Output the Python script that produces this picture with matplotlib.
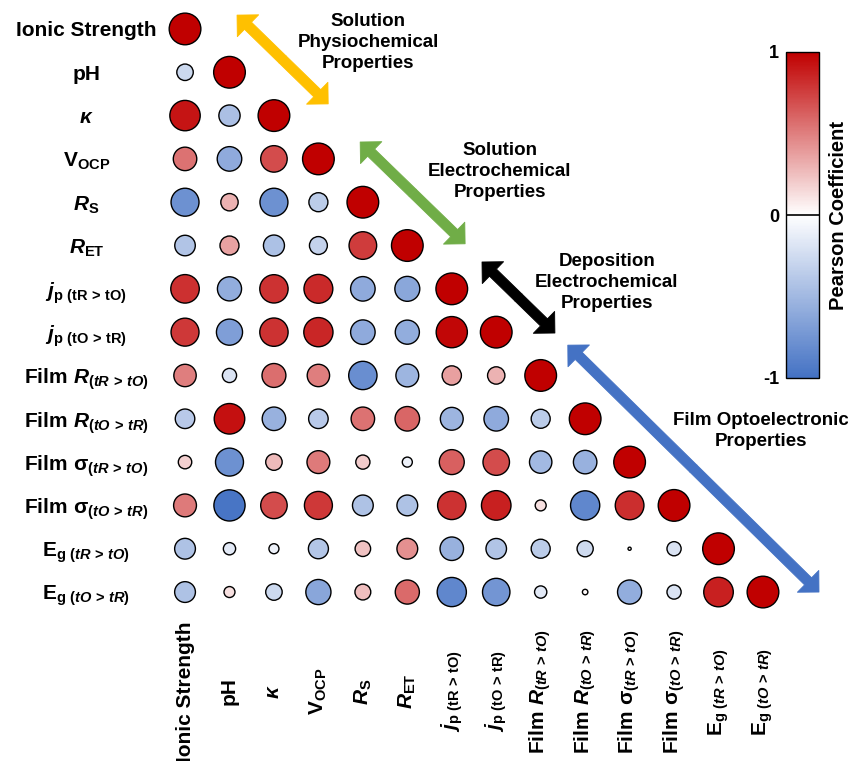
import numpy as np
import matplotlib
matplotlib.use("Agg")
import matplotlib.pyplot as plt
from matplotlib.colors import LinearSegmentedColormap

plt.rcParams['font.family'] = ['Liberation Sans', 'DejaVu Sans']
plt.rcParams['font.weight'] = 'bold'
plt.rcParams['mathtext.fontset'] = 'custom'
plt.rcParams['mathtext.rm'] = 'Liberation Sans:bold'
plt.rcParams['mathtext.it'] = 'Liberation Sans:italic:bold'
plt.rcParams['mathtext.bf'] = 'Liberation Sans:bold'

# variable names (same order for rows and columns)
labels = [
    'Ionic Strength',
    'pH',
    r'$\mathit{κ}$',
    r'$\mathrm{V}_{\mathrm{OCP}}$',
    r'$\mathit{R}_{\mathrm{S}}$',
    r'$\mathit{R}_{\mathrm{ET}}$',
    r'$\mathit{j}_{\mathrm{p\ (tR\,>\,tO)}}$',
    r'$\mathit{j}_{\mathrm{p\ (tO\,>\,tR)}}$',
    r'$\mathrm{Film}\ \mathit{R}_{\mathit{(tR\,>\,tO)}}$',
    r'$\mathrm{Film}\ \mathit{R}_{\mathit{(tO\,>\,tR)}}$',
    r'$\mathrm{Film\ σ}_{\mathit{(tR\,>\,tO)}}$',
    r'$\mathrm{Film\ σ}_{\mathit{(tO\,>\,tR)}}$',
    r'$\mathrm{E}_{\mathrm{g}\ \mathit{(tR\,>\,tO)}}$',
    r'$\mathrm{E}_{\mathrm{g}\ \mathit{(tO\,>\,tR)}}$',
]

# lower triangle of the Pearson matrix, row by row (diagonal included)
corr_rows = [
    [1.00],
    [-0.27, 1.00],
    [0.92, -0.45, 1.00],
    [0.55, -0.60, 0.70, 1.00],
    [-0.78, 0.30, -0.78, -0.36, 1.00],
    [-0.42, 0.36, -0.44, -0.32, 0.76, 1.00],
    [0.81, -0.58, 0.80, 0.83, -0.60, -0.62, 1.00],
    [0.78, -0.68, 0.80, 0.85, -0.60, -0.58, 0.97, 1.00],
    [0.50, -0.20, 0.57, 0.50, -0.80, -0.52, 0.37, 0.30, 1.00],
    [-0.38, 0.93, -0.55, -0.38, 0.55, 0.60, -0.52, -0.60, -0.36, 1.00],
    [0.18, -0.78, 0.27, 0.52, 0.20, -0.10, 0.62, 0.70, -0.50, -0.55, 1.00],
    [0.52, -0.97, 0.70, 0.78, -0.43, -0.43, 0.80, 0.87, 0.12, -0.85, 0.82, 1.00],
    [-0.43, -0.15, -0.10, -0.40, 0.24, 0.43, -0.55, -0.42, -0.36, -0.26, 0.01, -0.20, 1.00],
    [-0.43, 0.12, -0.27, -0.63, 0.25, 0.58, -0.85, -0.75, -0.15, 0.03, -0.58, -0.20, 0.87, 1.00],
]

# property groups: text, arrow ends (grid units), colour
groups = [
    ('Solution\nPhysiochemical\nProperties', (4.12, 0.32), (1.17, -0.32), (3.22, 1.73), '#FFC000'),
    ('Solution\nElectrochemical\nProperties', (7.08, 3.30), (3.94, 2.61), (6.30, 4.96), '#70AD47'),
    ('Deposition\nElectrochemical\nProperties', (9.49, 5.86), (6.68, 5.38), (8.32, 7.02), '#000000'),
    ('Film Optoelectronic\nProperties', (12.96, 9.28), (8.61, 7.30), (14.26, 13.00), '#4472C4'),
]

cmap = LinearSegmentedColormap.from_list('pearson', ['#4472C4', '#FFFFFF', '#C00000'])

xs, ys, vals = [], [], []
for i, row in enumerate(corr_rows):
    for j, v in enumerate(row):
        xs.append(j)
        ys.append(i)
        vals.append(v)
vals = np.array(vals)

fig = plt.figure(figsize=(8.48, 7.61), dpi=100)
ax = fig.add_axes([162.8 / 848, 1 - 613.7 / 761, 622.4 / 848, 606.4 / 761])

sc = ax.scatter(xs, ys, s=np.abs(vals) * 520, c=vals, cmap=cmap, vmin=-1, vmax=1,
                edgecolors='black', linewidths=1.0, zorder=3)

ax.set_xlim(-0.5, 13.5)
ax.set_ylim(13.5, -0.5)
for sp in ax.spines.values():
    sp.set_visible(False)

n = len(labels)
ax.set_yticks(range(n), labels, fontsize=15)
ax.set_xticks(range(n), labels, fontsize=15, rotation=90)
for lab in ax.get_yticklabels():
    lab.set_horizontalalignment('center')
for lab in ax.get_xticklabels():
    lab.set_verticalalignment('center')
ax.tick_params(axis='y', length=0, pad=55)
ax.tick_params(axis='x', length=0, pad=56)

# group arrows and captions
for text, txy, p0, p1, color in groups:
    mid = ((p0[0] + p1[0]) / 2, (p0[1] + p1[1]) / 2)
    for tip in (p0, p1):
        ax.annotate('', xy=tip, xytext=mid, annotation_clip=False,
                    arrowprops=dict(arrowstyle='simple,head_length=11,head_width=22,tail_width=7.2',
                                    mutation_scale=1, color=color, lw=0.6,
                                    shrinkA=0, shrinkB=0))
    ax.text(txy[0], txy[1], text, ha='center', va='center', fontsize=13.5,
            fontweight='bold', linespacing=1.3, clip_on=False)

# colour bar
cax = fig.add_axes([786 / 848, 1 - 378 / 761, 33 / 848, 326 / 761])
cb = fig.colorbar(sc, cax=cax)
cb.set_ticks([-1, 0, 1])
cb.set_ticklabels(['-1', '0', '1'])
cax.yaxis.set_ticks_position('left')
cax.yaxis.set_label_position('right')
cax.tick_params(length=0, labelsize=13, pad=5)
cb.set_label('Pearson Coefficient', fontsize=14.5, fontweight='bold', labelpad=7)
cb.outline.set_edgecolor('black')
cb.outline.set_linewidth(1.0)
cax.axhline(0, color='black', lw=1.2)

fig.savefig('out.png', dpi=100)
